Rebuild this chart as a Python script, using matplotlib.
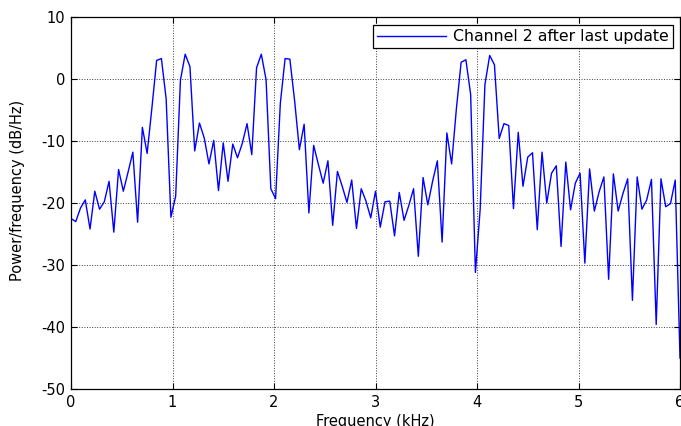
import numpy as np
import matplotlib
matplotlib.use("Agg")
import matplotlib.pyplot as plt

plt.rcParams['font.family'] = ['DejaVu Sans']
plt.rcParams['axes.unicode_minus'] = False

# Welch PSD estimate, 129 bins from 0 to 6 kHz
freq_max_khz = 6.0
psd_db = [
    -22.5, -23.0, -20.8, -19.5, -24.2, -18.1, -21.0, -19.8, -16.5, -24.7,
    -14.6, -18.1, -15.0, -11.8, -23.1, -7.8, -12.0, -4.7, 3.0, 3.3,
    -3.2, -22.3, -18.9, -0.2, 4.0, 2.0, -11.6, -7.1, -9.5, -13.7,
    -9.9, -18.0, -10.3, -16.5, -10.5, -12.7, -10.4, -7.2, -12.2, 1.8,
    4.0, -0.1, -17.7, -19.3, -3.9, 3.3, 3.2, -3.5, -11.4, -7.3,
    -21.6, -10.7, -13.8, -16.8, -13.2, -23.6, -14.9, -17.3, -19.9, -16.3,
    -24.1, -17.7, -19.7, -22.4, -18.1, -23.9, -19.8, -19.7, -25.3, -18.3,
    -22.8, -20.4, -17.7, -28.6, -15.9, -20.3, -16.5, -13.2, -26.3, -8.7,
    -13.7, -4.8, 2.7, 3.1, -2.5, -31.2, -21.0, -0.9, 3.8, 2.3,
    -9.6, -7.2, -7.5, -20.9, -8.6, -17.3, -12.6, -11.9, -24.3, -11.8,
    -20.0, -15.2, -14.0, -27.0, -13.4, -21.1, -16.8, -15.2, -29.7, -14.5,
    -21.3, -18.2, -15.8, -32.3, -15.3, -21.3, -18.5, -16.1, -35.7, -15.8,
    -21.0, -19.5, -16.2, -39.6, -16.1, -20.6, -20.1, -16.3, -45.0,
]
freq_khz = np.linspace(0, freq_max_khz, len(psd_db))

x_ticks = [0, 1, 2, 3, 4, 5, 6]
y_ticks = [-50, -40, -30, -20, -10, 0, 10]
series_label = "Channel 2 after last update"

fig = plt.figure(figsize=(6.81, 4.26), dpi=100)
ax = fig.add_axes([71 / 681, (426 - 389) / 426, 609 / 681, 372 / 426])

ax.plot(freq_khz, psd_db, color="#0000ff", lw=1.0, label=series_label)

ax.set_xlim(0, 6)
ax.set_ylim(-50, 10)
ax.set_xticks(x_ticks)
ax.set_yticks(y_ticks)
ax.grid(True, color="#404040", linestyle=":", linewidth=0.7)
ax.tick_params(direction="in", top=True, right=True, labelsize=10.5,
               length=4, width=0.8, pad=4)
for s in ax.spines.values():
    s.set_linewidth(0.9)

ax.set_xlabel("Frequency (kHz)", fontsize=10.5, labelpad=3)
ax.set_ylabel("Power/frequency (dB/Hz)", fontsize=10.5)
ax.yaxis.set_label_coords(-0.075, 0.535)

leg = ax.legend(loc="upper right", bbox_to_anchor=(0.988, 0.978),
                fancybox=False, framealpha=1, edgecolor="black",
                fontsize=11.3, handlelength=4.4, borderpad=0.25,
                handletextpad=0.45, borderaxespad=0)
leg.get_frame().set_linewidth(0.9)

fig.savefig("out.png", dpi=100)
